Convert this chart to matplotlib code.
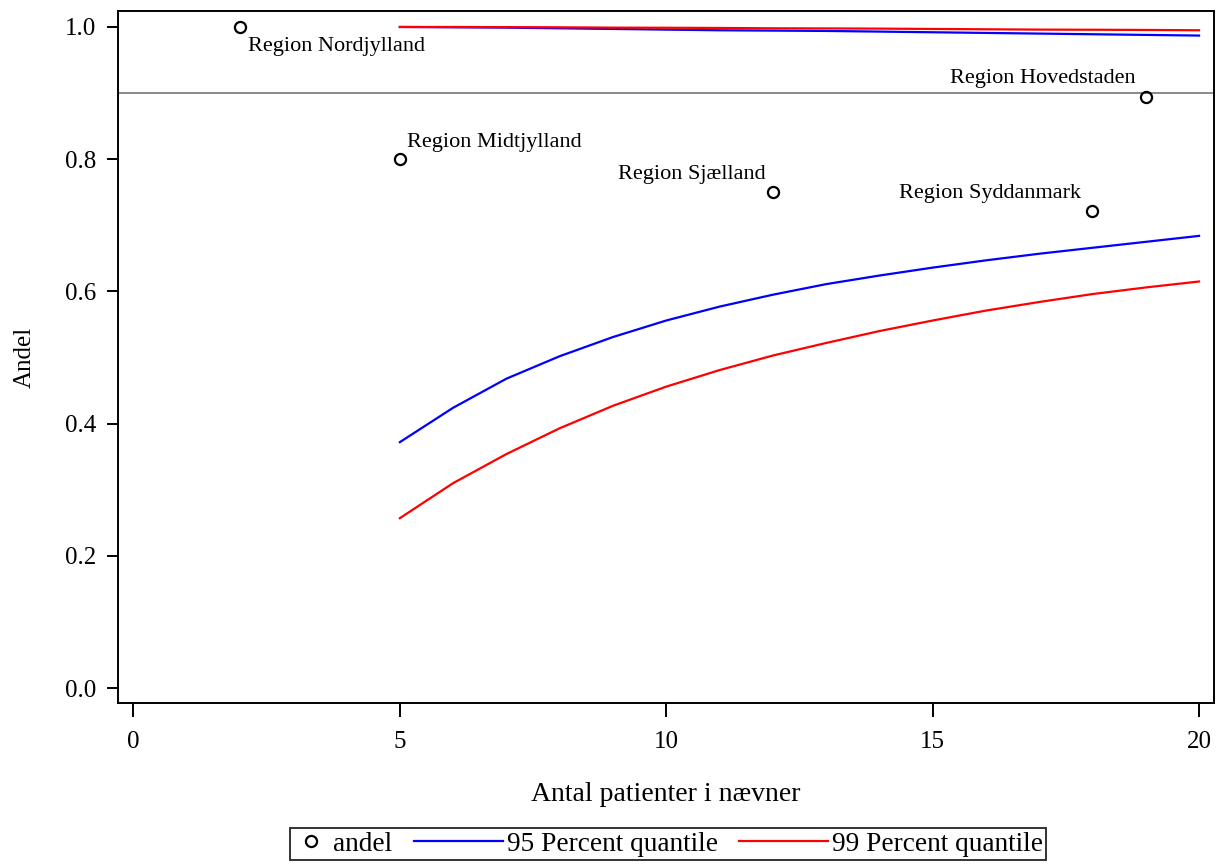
import matplotlib
matplotlib.use("Agg")
import matplotlib.pyplot as plt
from matplotlib.lines import Line2D
from matplotlib.legend_handler import HandlerLine2D

plt.rcParams['font.family'] = ['Liberation Serif', 'DejaVu Serif']

# observed proportions per region
regions = ["Region Nordjylland", "Region Midtjylland", "Region Sjælland",
           "Region Syddanmark", "Region Hovedstaden"]
region_n = [2, 5, 12, 18, 19]
region_andel = [1.0, 0.8, 0.75, 0.7222, 0.8947]

# funnel limits by denominator
n_limits = [5, 6, 7, 8, 9, 10, 11, 12, 13, 14, 15, 16, 17, 18, 19, 20]
lower95 = [0.372, 0.424, 0.468, 0.502, 0.531, 0.556, 0.577, 0.595,
           0.611, 0.624, 0.636, 0.647, 0.657, 0.666, 0.675, 0.684]
upper95 = [1.000, 0.9995, 0.999, 0.998, 0.997, 0.996, 0.995, 0.9945,
           0.994, 0.993, 0.992, 0.991, 0.990, 0.989, 0.988, 0.987]
lower99 = [0.257, 0.310, 0.354, 0.393, 0.427, 0.456, 0.481, 0.503,
           0.522, 0.540, 0.556, 0.571, 0.584, 0.596, 0.606, 0.615]
upper99 = [1.000, 1.000, 0.9998, 0.9995, 0.999, 0.9988, 0.9985, 0.998,
           0.9978, 0.9975, 0.997, 0.9965, 0.996, 0.9958, 0.9955, 0.995]
target = 0.9

# label offsets in points (dx, dy, ha)
label_pos = [(6, -14, 'left'), (5, 12, 'left'), (-5, 13, 'right'),
             (-8, 12, 'right'), (-7, 13, 'right')]


class LongLine(HandlerLine2D):
    # legend line that reaches back into the column gap
    def __init__(self, ext, **kw):
        super().__init__(**kw)
        self.ext = ext

    def create_artists(self, legend, orig_handle, xdescent, ydescent,
                       width, height, fontsize, trans):
        y = (height - ydescent) / 2.0
        ln = Line2D([-xdescent - self.ext * fontsize, -xdescent + width], [y, y])
        self.update_prop(ln, orig_handle, legend)
        ln.set_transform(trans)
        return [ln]


fig = plt.figure(figsize=(12.24, 8.64), dpi=100)
ax = fig.add_axes([0.0964, 0.186, 0.8954, 0.8013])

ax.axhline(target, color='#808080', lw=1.3, zorder=1)
ax.plot(n_limits, upper95, color='#0000ff', lw=1.6, zorder=2)
l95, = ax.plot(n_limits, lower95, color='#0000ff', lw=1.6, zorder=2,
               label='95 Percent quantile')
ax.plot(n_limits, upper99, color='#ff0000', lw=1.6, zorder=3)
l99, = ax.plot(n_limits, lower99, color='#ff0000', lw=1.6, zorder=3,
               label='99 Percent quantile')
pts, = ax.plot(region_n, region_andel, linestyle='none', marker='o', ms=8,
               mfc='none', mec='black', mew=1.6, zorder=4, label='andel')

for name, n, a, (dx, dy, ha) in zip(regions, region_n, region_andel, label_pos):
    ax.annotate(name, (n, a), xytext=(dx, dy), textcoords='offset points',
                ha=ha, va='center', fontsize=16)

ax.set_xlim(-0.29, 20.28)
ax.set_ylim(-0.023, 1.0242)
ax.set_xticks([0, 5, 10, 15, 20])
ax.set_yticks([0.0, 0.2, 0.4, 0.6, 0.8, 1.0])
ax.set_yticklabels(['0.0', '0.2', '0.4', '0.6', '0.8', '1.0'])
ax.tick_params(axis='x', direction='out', length=10, width=1.4,
               labelsize=18, pad=10)
ax.tick_params(axis='y', direction='out', length=8, width=1.4,
               labelsize=18, pad=7.5)
for s in ax.spines.values():
    s.set_linewidth(1.4)

ax.set_xlabel('Antal patienter i nævner', fontsize=20, labelpad=21)
ax.set_ylabel('Andel', fontsize=18, labelpad=21)

leg = fig.legend([pts, l95, l99], ['andel', '95 Percent quantile',
                                   '99 Percent quantile'],
                 loc='center', bbox_to_anchor=(0.546, 0.023), ncol=3,
                 fontsize=19.6, frameon=True, fancybox=False, edgecolor='black',
                 handlelength=1.3, columnspacing=2.75, borderpad=0.12,
                 handletextpad=0.15,
                 handler_map={l95: LongLine(1.95), l99: LongLine(1.95)})
leg.get_frame().set_linewidth(1.4)

fig.savefig('out.png', dpi=100)
